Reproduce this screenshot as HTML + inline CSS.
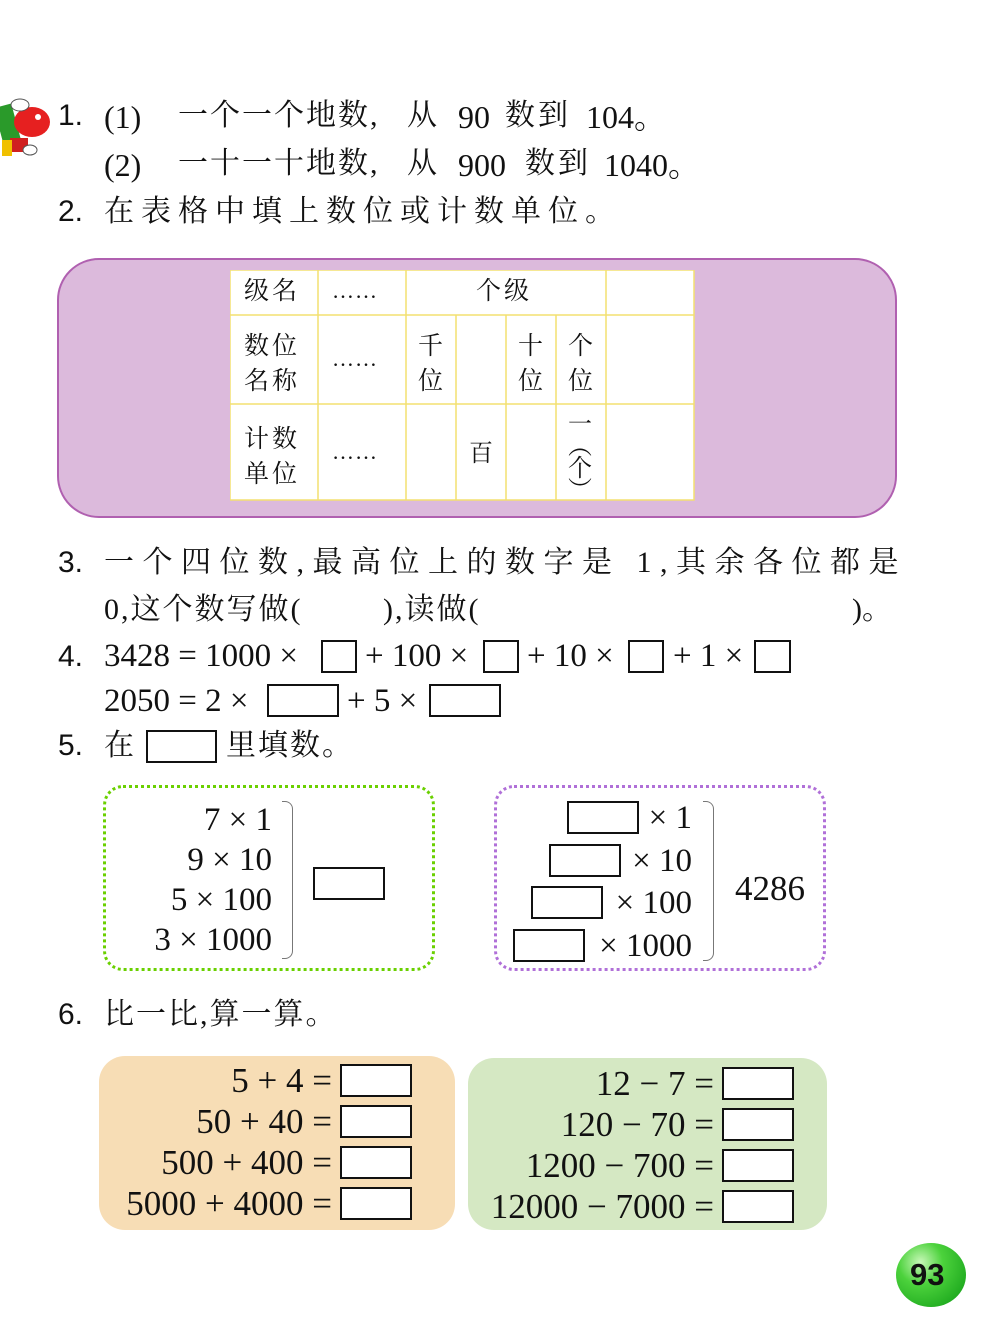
<!DOCTYPE html>
<html><head><meta charset="utf-8">
<style>
body{margin:0;background:#fff;}
#p{position:relative;width:1000px;height:1336px;overflow:hidden;background:#fff;font-family:"Liberation Serif","Noto Serif CJK SC",serif;color:#111;}
.t{position:absolute;white-space:nowrap;line-height:1;}
.cn{font-family:"Liberation Serif","Noto Serif CJK SC",serif;font-size:30px;}
.n{font-family:"Liberation Sans",sans-serif;font-size:30px;}
.num{font-family:"Liberation Serif",serif;font-size:33px;}
.b{position:absolute;border:2px solid #111;background:#fff;box-sizing:border-box;}
.r{position:absolute;white-space:nowrap;line-height:1;text-align:right;font-size:33px;}
.r6{font-size:35px;}
.brace{position:absolute;border:1.5px solid #777;border-left:none;}
</style></head><body><div id="p">
<svg style="position:absolute;left:0;top:90px" width="55" height="75">
<rect x="0" y="15" width="18" height="45" fill="#2a9a2a" transform="rotate(-15 9 40)"/>
<ellipse cx="32" cy="32" rx="18" ry="15" fill="#e62020"/>
<circle cx="38" cy="27" r="3" fill="#fff"/>
<ellipse cx="20" cy="15" rx="9" ry="6" fill="#fff" stroke="#555"/>
<rect x="10" y="48" width="18" height="14" fill="#d02020"/>
<ellipse cx="30" cy="60" rx="7" ry="5" fill="#fff" stroke="#555"/>
<rect x="2" y="50" width="10" height="16" fill="#f0c000"/>
</svg>
<div class="t n" style="left:58px;top:101px">1.</div>
<div class="t cn" style="left:104px;top:101px;font-size:32px">(1)</div>
<div class="t cn" style="left:178px;top:101px;letter-spacing:2px">一个一个地数,</div>
<div class="t cn" style="left:407px;top:101px">从</div>
<div class="t cn" style="left:458px;top:101px;font-size:32px">90</div>
<div class="t cn" style="left:505px;top:101px;letter-spacing:3px">数到</div>
<div class="t cn" style="left:586px;top:101px;font-size:32px">104。</div>
<div class="t cn" style="left:104px;top:149px;font-size:32px">(2)</div>
<div class="t cn" style="left:178px;top:149px;letter-spacing:2px">一十一十地数,</div>
<div class="t cn" style="left:407px;top:149px">从</div>
<div class="t cn" style="left:458px;top:149px;font-size:32px">900</div>
<div class="t cn" style="left:525px;top:149px;letter-spacing:3px">数到</div>
<div class="t cn" style="left:604px;top:149px;font-size:32px">1040。</div>
<div class="t n" style="left:58px;top:197px">2.</div>
<div class="t cn" style="left:104px;top:197px;letter-spacing:7px">在表格中填上数位或计数单位。</div>

<div style="position:absolute;left:57px;top:258px;width:840px;height:260px;box-sizing:border-box;border:2px solid #b060b0;border-radius:42px;background:#dcbadc"></div>
<svg style="position:absolute;left:230px;top:270px" width="466" height="232">
<rect x="0" y="0" width="464" height="230" fill="#fff"/>
<g stroke="#f3e070" stroke-width="1.5" fill="none">
<rect x="0" y="0" width="464" height="230"/>
<line x1="0" y1="45" x2="464" y2="45"/><line x1="0" y1="134" x2="464" y2="134"/>
<line x1="88" y1="0" x2="88" y2="230"/><line x1="176" y1="0" x2="176" y2="230"/>
<line x1="376" y1="0" x2="376" y2="230"/>
<line x1="226" y1="45" x2="226" y2="230"/><line x1="276" y1="45" x2="276" y2="230"/><line x1="326" y1="45" x2="326" y2="230"/>
</g></svg>
<div class="t cn" style="left:244px;top:279px;font-size:25px;letter-spacing:3px">级名</div>
<div class="t" style="left:332px;top:280px;font-size:22px;letter-spacing:1px">……</div>
<div class="t cn" style="left:476px;top:279px;font-size:25px;letter-spacing:3px">个级</div>
<div class="t cn" style="left:244px;top:329px;font-size:25px;letter-spacing:3px;line-height:35px">数位<br>名称</div>
<div class="t" style="left:332px;top:348px;font-size:22px;letter-spacing:1px">……</div>
<div class="t cn" style="left:418px;top:329px;font-size:25px;line-height:35px">千<br>位</div>
<div class="t cn" style="left:518px;top:329px;font-size:25px;line-height:35px">十<br>位</div>
<div class="t cn" style="left:568px;top:329px;font-size:25px;line-height:35px">个<br>位</div>
<div class="t cn" style="left:244px;top:422px;font-size:25px;letter-spacing:3px;line-height:35px">计数<br>单位</div>
<div class="t" style="left:332px;top:441px;font-size:22px;letter-spacing:1px">……</div>
<div class="t cn" style="left:469px;top:442px;font-size:24px">百</div>
<div class="t cn" style="left:568px;top:414px;font-size:24px;line-height:22px">一<br>︵<br>个<br>︶</div>

<div class="t n" style="left:58px;top:548px">3.</div>
<div class="t cn" style="left:104px;top:548px;letter-spacing:8.5px">一个四位数,最高位上的数字是 1,其余各位都是</div>
<div class="t cn" style="left:104px;top:595px;letter-spacing:2px">0,这个数写做(</div>
<div class="t cn" style="left:383px;top:595px;letter-spacing:2px">),读做(</div>
<div class="t cn" style="left:852px;top:595px">)。</div>

<div class="t n" style="left:58px;top:642px">4.</div>
<div class="t num" style="left:104px;top:640px">3428 = 1000 ×</div>
<div class="b" style="left:321px;top:640px;width:36px;height:33px"></div>
<div class="t num" style="left:365px;top:640px">+ 100 ×</div>
<div class="b" style="left:483px;top:640px;width:36px;height:33px"></div>
<div class="t num" style="left:527px;top:640px">+ 10 ×</div>
<div class="b" style="left:628px;top:640px;width:36px;height:33px"></div>
<div class="t num" style="left:673px;top:640px">+ 1 ×</div>
<div class="b" style="left:754px;top:640px;width:37px;height:33px"></div>
<div class="t num" style="left:104px;top:685px">2050 = 2 ×</div>
<div class="b" style="left:267px;top:684px;width:72px;height:33px"></div>
<div class="t num" style="left:347px;top:685px">+ 5 ×</div>
<div class="b" style="left:429px;top:684px;width:72px;height:33px"></div>

<div class="t n" style="left:58px;top:731px">5.</div>
<div class="t cn" style="left:104px;top:731px">在</div>
<div class="b" style="left:146px;top:730px;width:71px;height:33px"></div>
<div class="t cn" style="left:226px;top:731px;letter-spacing:2px">里填数。</div>

<div style="position:absolute;left:103px;top:785px;width:332px;height:186px;box-sizing:border-box;border:3px dotted #6ad000;border-radius:20px"></div>
<div class="r" style="right:728px;top:804px">7 × 1</div>
<div class="r" style="right:728px;top:844px">9 × 10</div>
<div class="r" style="right:728px;top:884px">5 × 100</div>
<div class="r" style="right:728px;top:924px">3 × 1000</div>
<div class="brace" style="left:282px;top:801px;width:10px;height:156px;border-radius:0 8px 8px 0"></div>
<div class="b" style="left:313px;top:867px;width:72px;height:33px"></div>

<div style="position:absolute;left:494px;top:785px;width:332px;height:186px;box-sizing:border-box;border:3px dotted #b070d8;border-radius:20px"></div>
<div class="b" style="left:567px;top:801px;width:72px;height:33px"></div>
<div class="b" style="left:549px;top:844px;width:72px;height:33px"></div>
<div class="b" style="left:531px;top:886px;width:72px;height:33px"></div>
<div class="b" style="left:513px;top:929px;width:72px;height:33px"></div>
<div class="r" style="right:308px;top:802px">× 1</div>
<div class="r" style="right:308px;top:845px">× 10</div>
<div class="r" style="right:308px;top:887px">× 100</div>
<div class="r" style="right:308px;top:930px">× 1000</div>
<div class="brace" style="left:703px;top:801px;width:10px;height:158px;border-radius:0 8px 8px 0"></div>
<div class="t num" style="left:735px;top:871px;font-size:35px">4286</div>

<div class="t n" style="left:58px;top:1000px">6.</div>
<div class="t cn" style="left:104px;top:1000px;letter-spacing:2px">比一比,算一算。</div>

<div style="position:absolute;left:99px;top:1056px;width:356px;height:174px;border-radius:26px;background:#f7ddb5"></div>
<div class="r r6" style="right:668px;top:1063px">5 + 4 =</div>
<div class="r r6" style="right:668px;top:1104px">50 + 40 =</div>
<div class="r r6" style="right:668px;top:1145px">500 + 400 =</div>
<div class="r r6" style="right:668px;top:1186px">5000 + 4000 =</div>
<div class="b" style="left:340px;top:1064px;width:72px;height:33px"></div>
<div class="b" style="left:340px;top:1105px;width:72px;height:33px"></div>
<div class="b" style="left:340px;top:1146px;width:72px;height:33px"></div>
<div class="b" style="left:340px;top:1187px;width:72px;height:33px"></div>

<div style="position:absolute;left:468px;top:1058px;width:359px;height:172px;border-radius:26px;background:#d5e8c3"></div>
<div class="r r6" style="right:286px;top:1066px">12 − 7 =</div>
<div class="r r6" style="right:286px;top:1107px">120 − 70 =</div>
<div class="r r6" style="right:286px;top:1148px">1200 − 700 =</div>
<div class="r r6" style="right:286px;top:1189px">12000 − 7000 =</div>
<div class="b" style="left:722px;top:1067px;width:72px;height:33px"></div>
<div class="b" style="left:722px;top:1108px;width:72px;height:33px"></div>
<div class="b" style="left:722px;top:1149px;width:72px;height:33px"></div>
<div class="b" style="left:722px;top:1190px;width:72px;height:33px"></div>

<div style="position:absolute;left:896px;top:1243px;width:70px;height:64px;border-radius:50%;background:radial-gradient(circle at 35% 30%,#c8f8b8 0%,#4cd23c 35%,#1faa1f 80%)"></div>
<div class="t" style="left:910px;top:1259px;font-family:'Liberation Sans',sans-serif;font-size:31px;font-weight:bold">93</div>
</div></body></html>
